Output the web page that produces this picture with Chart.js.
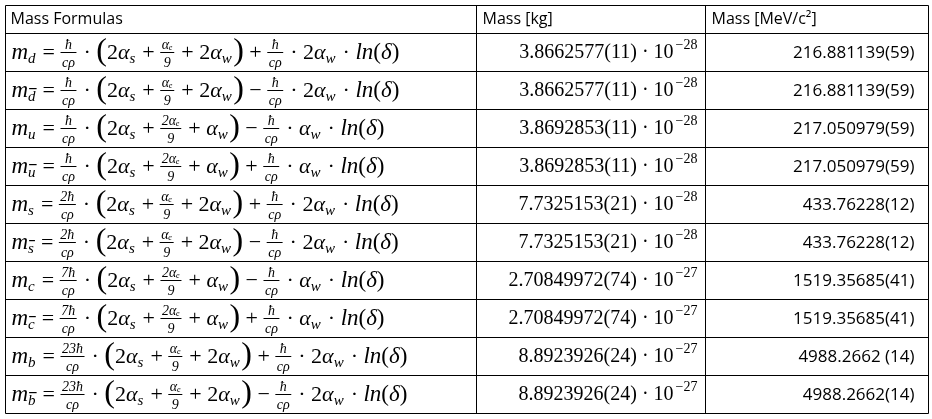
<!DOCTYPE html>
<html><head><meta charset="utf-8">
<script src="https://cdn.jsdelivr.net/npm/chart.js@4"></script>
<style>html,body{margin:0;background:#fff}#w{width:932px;height:419px}</style>
</head><body><div id="w"><canvas id="c"></canvas></div>
<script>
const headers = ["Mass Formulas", "Mass [kg]", "Mass [MeV/c²]"];
const quarks = ["d","d","u","u","s","s","c","c","b","b"];
const antiQuark = [false,true,false,true,false,true,false,true,false,true];
const prefactor = ["ħ","ħ","ħ","ħ","2ħ","2ħ","7ħ","7ħ","23ħ","23ħ"];
const alphaENum = ["αₑ","αₑ","2αₑ","2αₑ","αₑ","αₑ","2αₑ","2αₑ","αₑ","αₑ"];
const alphaWCoef = ["2","2","","","2","2","","","2","2"];
const signs = ["+","−","−","+","+","−","−","+","+","−"];
const lnCoef = ["2","2","","","2","2","","","2","2"];
const massKgMant = ["3.8662577(11)","3.8662577(11)","3.8692853(11)","3.8692853(11)","7.7325153(21)","7.7325153(21)","2.70849972(74)","2.70849972(74)","8.8923926(24)","8.8923926(24)"];
const massKgExp = ["−28","−28","−28","−28","−28","−28","−27","−27","−27","−27"];
const massMeV = ["216.881139(59)","216.881139(59)","217.050979(59)","217.050979(59)","433.76228(12)","433.76228(12)","1519.35685(41)","1519.35685(41)","4988.2662 (14)","4988.2662(14)"];
const colEdges = [0, 471, 700, 923];

const SERIF = '"Liberation Serif","DejaVu Serif",serif';
function drawFormula(ctx, x, y, i) {
  const T = (s, it, size, dy) => {
    ctx.font = (it ? 'italic ' : '') + size + 'px ' + SERIF;
    ctx.fillText(s, x, y + (dy || 0));
    const w = ctx.measureText(s).width; x += w; return w;
  };
  const sub = (s, bar) => {
    ctx.font = 'italic 15px ' + SERIF;
    const w = ctx.measureText(s).width;
    ctx.fillText(s, x, y + 6);
    if (bar) { ctx.fillRect(x + 1, y - 3, w, 1.2); }
    x += w + 1.5;
  };
  const frac = (n, d) => {
    ctx.font = 'italic 14px ' + SERIF;
    const w = Math.max(ctx.measureText(n).width, ctx.measureText(d).width) + 3;
    ctx.textAlign = 'center';
    ctx.fillText(n, x + w / 2, y - 8);
    ctx.fillText(d, x + w / 2, y + 10);
    ctx.textAlign = 'left';
    ctx.fillRect(x, y - 1, w, 1);
    x += w + 1.5;
  };
  ctx.textBaseline = 'middle';
  T('m', true, 23); sub(quarks[i], antiQuark[i]); T(' = ', false, 22);
  frac(prefactor[i], 'cρ'); T(' · ', false, 22); T('(', false, 32, -1);
  T('2', false, 22); T('α', true, 22); sub('s'); T(' + ', false, 22);
  frac(alphaENum[i], '9'); T(' + ', false, 22); if (alphaWCoef[i]) T(alphaWCoef[i], false, 22);
  T('α', true, 22); sub('w'); T(')', false, 32, -1);
  T(' ' + signs[i] + ' ', false, 22); frac('ħ', 'cρ'); T(' · ', false, 22);
  if (lnCoef[i]) T(lnCoef[i], false, 22); T('α', true, 22); sub('w');
  T(' · ', false, 22); T('ln', true, 23); T('(', false, 23); T('δ', true, 23); T(')', false, 23);
}

const tablePlugin = {
  id: 'table',
  afterDraw(chart) {
    const ctx = chart.ctx, xs = chart.scales.x, ys = chart.scales.y;
    ctx.save();
    ctx.fillStyle = '#000'; ctx.strokeStyle = '#000'; ctx.lineWidth = 1;
    const X = colEdges.map(v => Math.round(xs.getPixelForValue(v)) + 0.5);
    const top = Math.round(ys.getPixelForValue(-0.737)) + 0.5;
    const bot = Math.round(ys.getPixelForValue(10)) + 0.5;
    for (let r = 0; r <= 10; r++) {
      const yy = Math.round(ys.getPixelForValue(r)) + 0.5;
      ctx.beginPath(); ctx.moveTo(X[0], yy); ctx.lineTo(X[3], yy); ctx.stroke();
    }
    ctx.beginPath(); ctx.moveTo(X[0], top); ctx.lineTo(X[3], top); ctx.stroke();
    X.forEach(xx => { ctx.beginPath(); ctx.moveTo(xx, top); ctx.lineTo(xx, bot); ctx.stroke(); });
    ctx.textBaseline = 'middle';
    ctx.font = '16px "Open Sans","Noto Sans",sans-serif';
    const hy = ys.getPixelForValue(-0.37);
    ctx.fillText(headers[0], X[0] + 5, hy);
    ctx.fillText(headers[1], X[1] + 6, hy);
    ctx.fillText(headers[2], X[2] + 6, hy);
    for (let i = 0; i < 10; i++) {
      const cy = ys.getPixelForValue(i + 0.5);
      drawFormula(ctx, X[0] + 6, cy + 1, i);
      ctx.font = '14px ' + SERIF;
      const ew = ctx.measureText(massKgExp[i]).width;
      ctx.textAlign = 'right';
      ctx.fillText(massKgExp[i], X[2] - 8, cy - 7);
      ctx.font = '20px ' + SERIF;
      ctx.fillText(massKgMant[i] + ' · 10', X[2] - 10 - ew, cy + 1);
      ctx.font = '17px "Open Sans","Noto Sans",sans-serif';
      ctx.fillText(massMeV[i], X[3] - 14, cy + 1);
      ctx.textAlign = 'left';
    }
    ctx.restore();
  }
};

new Chart(document.getElementById('c'), {
  type: 'scatter',
  data: { datasets: [{ data: [] }] },
  options: {
    responsive: true, maintainAspectRatio: false, animation: false,
    layout: { padding: { left: 5, right: 4, top: 5, bottom: 6 } },
    plugins: { legend: { display: false }, tooltip: { enabled: false } },
    scales: {
      x: { type: 'linear', min: 0, max: 923, display: false },
      y: { type: 'linear', min: -0.737, max: 10, reverse: true, display: false }
    }
  },
  plugins: [tablePlugin]
});
</script></body></html>
